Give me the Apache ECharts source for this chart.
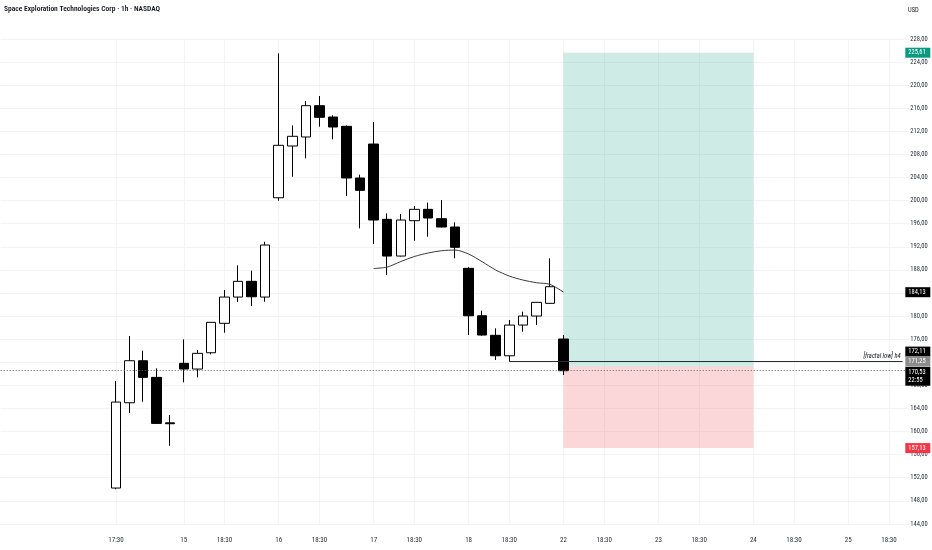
<!DOCTYPE html>
<html><head><meta charset="utf-8">
<script src="https://cdn.jsdelivr.net/npm/echarts@6/dist/echarts.min.js"></script>
<style>html,body{margin:0;padding:0;background:#fff}#c{width:932px;height:550px}</style>
</head><body><div id="c"></div>
<script>
// ---------- data ----------
const chartTitle = 'Space Exploration Technologies Corp · 1h · NASDAQ';
const currency = 'USD';
const days = ['13','14','15','16','17','18','22','23','24','25'];
const sessionTimes = ['15:30','16:30','17:30','18:30','19:30','20:30','21:30'];
const firstSlot = '13 16:30';
const lastSlot = '25 19:30';

const xTickCategories = ['14 17:30','15 15:30','15 18:30','16 15:30','16 18:30','17 15:30','17 18:30','18 15:30','18 18:30','22 15:30','22 18:30','23 15:30','23 18:30','24 15:30','24 18:30','25 15:30','25 18:30'];
const xTickLabels = ['17:30','15','18:30','16','18:30','17','18:30','18','18:30','22','18:30','23','18:30','24','18:30','25','18:30'];

const candleStart = '14 17:30';
const opens  = [150.21,164.98,172.26,169.38,161.50, 171.81,170.82,173.64,178.74,183.29,186.01,183.29, 200.49,209.45,211.01,216.43,214.47,212.86,203.91, 209.79,196.75,190.39,196.51,198.48,196.86,195.42, 188.26,180.05,176.66,173.12,178.44,180.00,182.20, 176.02];
const closes = [165.10,172.26,169.38,161.41,161.35, 170.82,173.54,178.91,183.29,186.01,183.34,192.30, 209.57,211.13,216.43,214.42,212.74,203.91,201.77, 196.63,190.39,196.63,198.48,196.98,195.42,191.90, 180.05,176.71,173.12,178.44,180.00,182.37,185.08, 170.53];
const lows   = [150.00,163.20,165.16,161.30,157.53, 168.52,169.38,173.37,177.11,182.43,181.73,182.48, 199.97,204.13,207.32,212.79,210.61,200.79,195.19, 192.47,187.10,190.30,193.04,193.74,195.35,190.00, 176.71,176.60,172.38,172.11,177.28,178.44,182.08, 169.78];
const highs  = [168.74,176.54,173.99,170.94,162.85, 175.96,174.11,178.95,184.50,188.78,187.85,192.87, 225.51,213.03,217.24,218.11,214.77,213.00,204.48, 213.61,197.79,197.67,199.05,199.63,200.09,196.23, 188.44,180.92,177.87,179.31,180.75,182.40,190.00, 176.71];

const maStart = '17 15:30';
const maValues = [188.23,188.49,189.44,190.31,190.91,191.31,191.43,190.74,189.41,187.97,186.93,186.24,185.77,185.49,184.13];

const lastPrice = 170.53;
const fractalStart = '18 18:30';
const fractalLow = 172.11;
const fractalText = '[fractal low] h4';

const positionStart = '22 15:30';
const positionEnd = '24 15:30';
const targetPrice = 225.61;
const entryPrice = 171.25;
const stopPrice = 157.13;

const badgePrices = [225.61, 184.13, 172.11, 171.25, 170.53, 157.13];
const badgeTexts  = ['225,61', '184,13', '172,11', '171,25', '170,53\n22:55', '157,13'];

const yMin = 144, yMax = 228, yStep = 4;

// ---------- styles ----------
const FONT = "'Liberation Sans Narrow', 'Roboto Condensed', Roboto, sans-serif";
const badgeStyle = [
  {fill:'#089981', dy:0, h:10},
  {fill:'#000000', dy:0, h:10},
  {fill:'#000000', dy:-10, h:10},
  {fill:'#8c8c8c', dy:-5.5, h:10},
  {fill:'#000000', dy:5.5, h:19},
  {fill:'#f23645', dy:0, h:10}
];

// ---------- build ----------
const allSlots = [];
days.forEach(d => sessionTimes.forEach(t => allSlots.push(d + ' ' + t)));
const categories = allSlots.slice(allSlots.indexOf(firstSlot), allSlots.indexOf(lastSlot) + 1);
const c0 = categories.indexOf(candleStart);
const candleData = categories.map((c, i) => {
  const k = i - c0;
  return (k >= 0 && k < opens.length) ? [opens[k], closes[k], lows[k], highs[k]] : '-';
});
const m0 = categories.indexOf(maStart);
const maData = categories.map((c, i) => {
  const k = i - m0;
  return (k >= 0 && k < maValues.length) ? maValues[k] : '-';
});
const lastCat = categories[categories.length - 1];
const fmt = v => v.toFixed(2).replace('.', ',');

const W = 13.561;
const gridLeft = 116 - (c0 + 0.5) * W;
const gridRight = 932 - (gridLeft + categories.length * W);

const chart = echarts.init(document.getElementById('c'));
chart.setOption({
  animation: false,
  backgroundColor: '#ffffff',
  title: [
    {text: chartTitle, left: 4, top: 5, padding: 0, textStyle: {fontSize: 7.5, fontWeight: 600, color: '#131722', fontFamily: FONT}},
    {text: currency, left: 908, top: 7, padding: 0, textStyle: {fontSize: 6.5, fontWeight: 'normal', color: '#131722', fontFamily: FONT}}
  ],
  grid: {left: gridLeft, right: gridRight, top: 38.9, bottom: 26.1},
  xAxis: {
    type: 'category', data: categories, boundaryGap: true,
    axisLine: {show: false}, axisTick: {show: false},
    axisLabel: {
      interval: (i, v) => xTickCategories.indexOf(v) >= 0,
      formatter: v => xTickLabels[xTickCategories.indexOf(v)] || '',
      fontSize: 7, color: '#2a2e39', margin: 13, fontFamily: FONT
    },
    splitLine: {show: true, alignWithLabel: true, interval: (i, v) => xTickCategories.indexOf(v) >= 0, lineStyle: {color: '#f3f3f3', width: 1}}
  },
  yAxis: {
    type: 'value', position: 'right', min: yMin, max: yMax, interval: yStep, scale: true,
    axisLine: {show: false}, axisTick: {show: false},
    axisLabel: {formatter: fmt, fontSize: 6.5, color: '#2a2e39', margin: 1, fontFamily: FONT},
    splitLine: {lineStyle: {color: '#f3f3f3', width: 1}}
  },
  series: [
    {
      type: 'candlestick', data: candleData, barWidth: 10,
      itemStyle: {color: '#ffffff', color0: '#000000', borderColor: '#000000', borderColor0: '#000000', borderWidth: 1},
      markArea: {
        silent: true,
        data: [
          [{coord: [positionStart, targetPrice], itemStyle: {color: 'rgba(8,153,129,0.2)'}}, {coord: [positionEnd, entryPrice]}],
          [{coord: [positionStart, entryPrice], itemStyle: {color: 'rgba(242,54,69,0.2)'}}, {coord: [positionEnd, stopPrice]}]
        ]
      },
      markLine: {
        silent: true, symbol: ['none', 'none'],
        data: [
          {yAxis: lastPrice, lineStyle: {type: [1, 2], color: '#666666', width: 1}, label: {show: false}},
          [
            {coord: [fractalStart, fractalLow], lineStyle: {type: 'solid', color: '#2a2e39', width: 1},
             label: {show: true, position: 'insideEndTop', formatter: fractalText, fontStyle: 'italic', fontSize: 6.5, color: '#131722', fontFamily: FONT, distance: 2}},
            {coord: [lastCat, fractalLow]}
          ]
        ]
      }
    },
    {
      type: 'line', data: maData, smooth: 0.3, symbol: 'none', connectNulls: false,
      lineStyle: {color: '#3a3a3a', width: 1}
    },
    {
      type: 'custom', z: 10, clip: false, silent: true,
      data: badgePrices.map(p => [0, p]),
      renderItem: (params, api) => {
        const i = params.dataIndex;
        const cs = params.coordSys;
        const st = badgeStyle[i];
        const y = api.coord([0, api.value(1)])[1] + st.dy;
        const x = cs.x + cs.width - 4;
        return {
          type: 'group',
          children: [
            {type: 'rect', shape: {x: x, y: y - st.h / 2, width: 25, height: st.h}, style: {fill: st.fill}},
            {type: 'text', style: {text: badgeTexts[i], x: x + 3, y: y, verticalAlign: 'middle', align: 'left',
              fill: '#ffffff', fontSize: 6.5, fontFamily: FONT, lineHeight: 8}}
          ]
        };
      }
    }
  ]
});
</script>
</body></html>
